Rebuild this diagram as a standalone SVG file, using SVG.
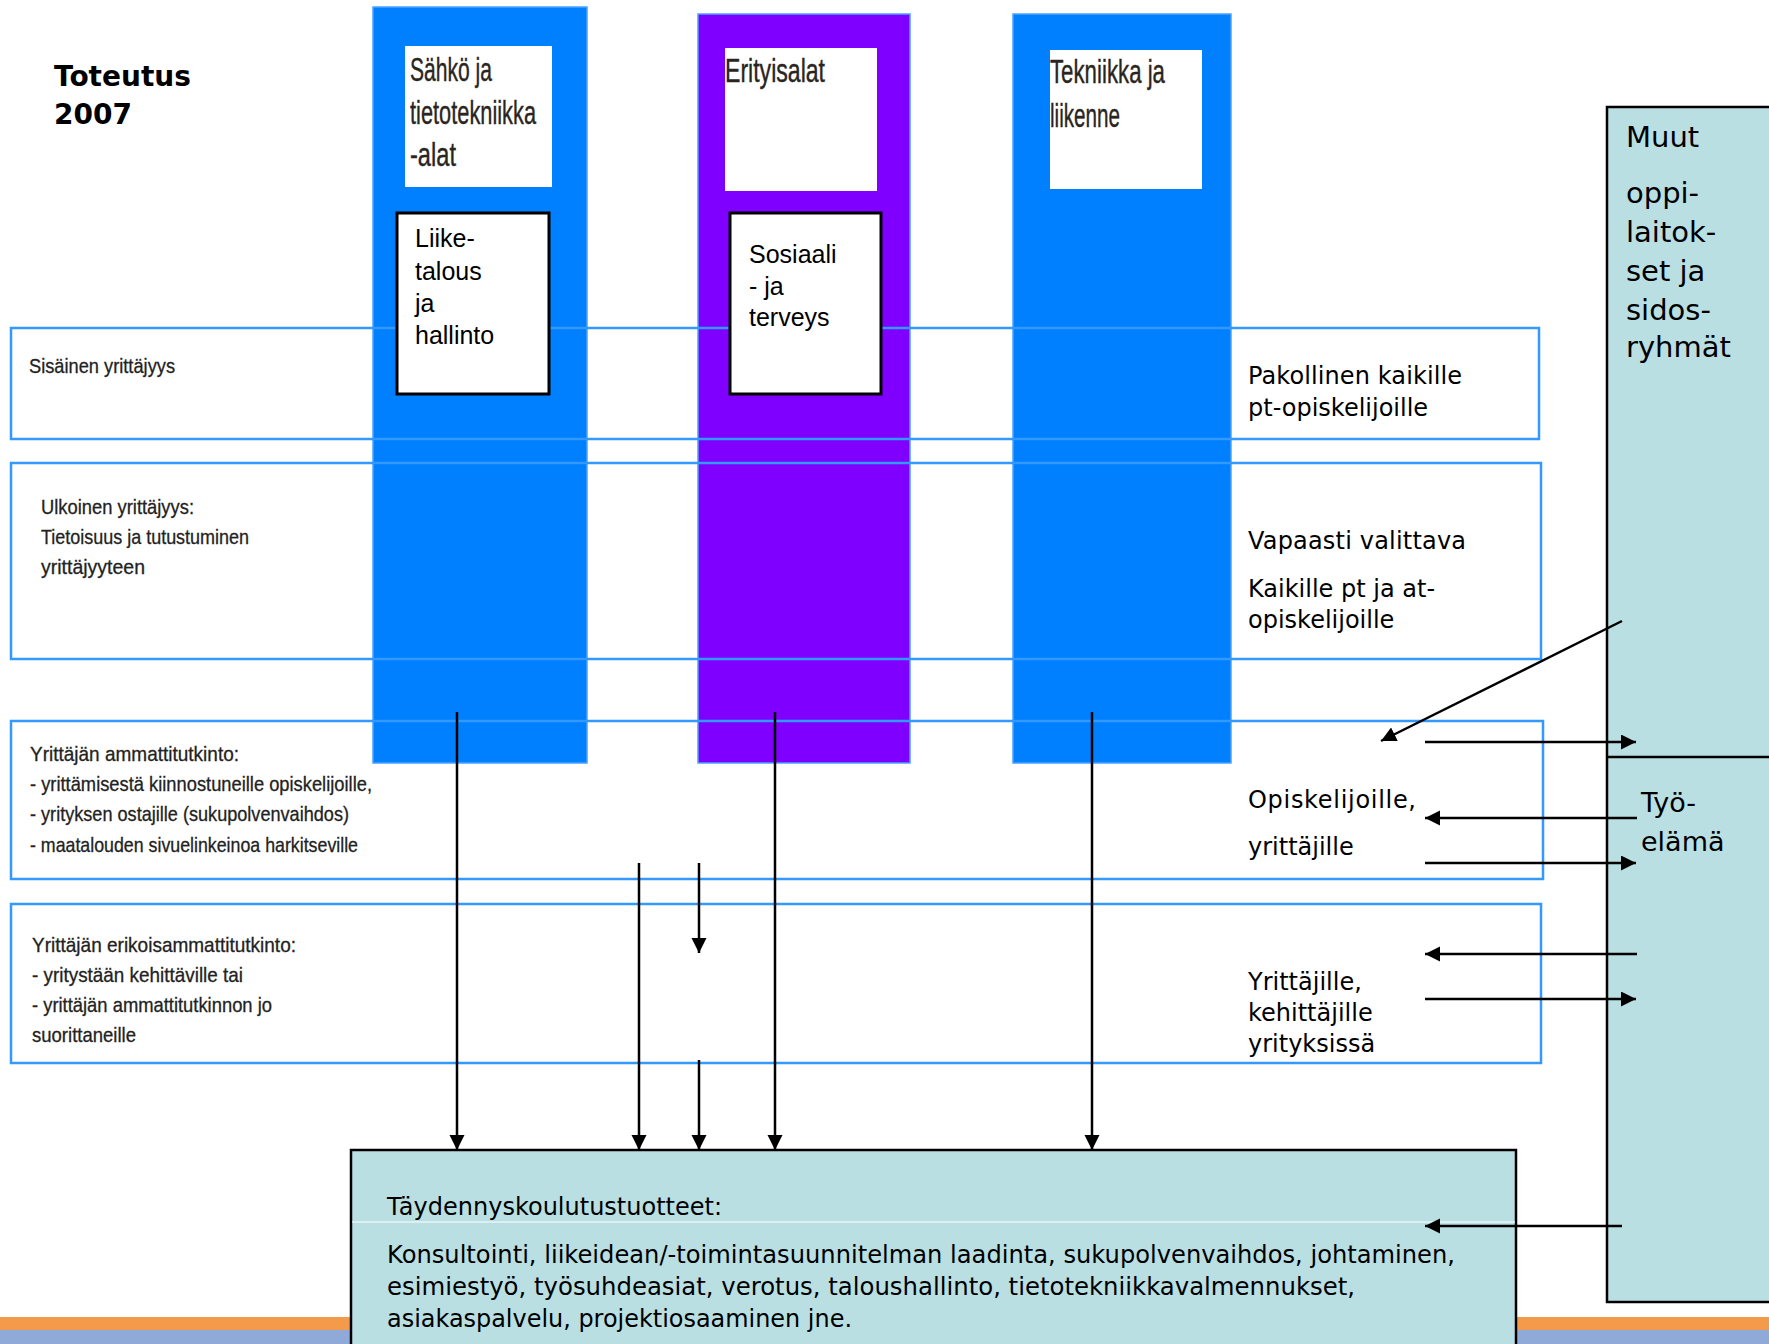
<svg xmlns="http://www.w3.org/2000/svg" width="1769" height="1344" viewBox="0 0 1769 1344">
<defs>
<marker id="ah" markerUnits="userSpaceOnUse" markerWidth="16" markerHeight="16" refX="15" refY="7.5" orient="auto">
<path d="M0,0 L15,7.5 L0,15 z" fill="#000"/>
</marker>
<style>
.col{fill:#0080FF;stroke:#4aa3ff;stroke-width:1.5}
.pur{fill:#8000FF;stroke:#4aa3ff;stroke-width:1.5}
.hdr{fill:#fff}
.blk{fill:#fff;stroke:#000;stroke-width:3}
.band{fill:none;stroke:#3399FF;stroke-width:2.5}
.teal{fill:#B9DFE3;stroke:#000;stroke-width:2.5}
.cond{font-family:"Liberation Sans",Arial,sans-serif;fill:#2a2520;stroke:#2a2520;stroke-width:0.4}
.narrow{font-family:"Liberation Sans",Arial,sans-serif;fill:#222;font-size:21px;stroke:#222;stroke-width:0.3}
.ar{font-family:"Liberation Sans",Arial,sans-serif;font-size:25px;fill:#000}
.vd{font-family:"DejaVu Sans",Verdana,sans-serif;font-size:24px;fill:#000}
.big{font-family:"DejaVu Sans",Verdana,sans-serif;fill:#000}
.conn line{stroke:#000;stroke-width:2.5;fill:none;marker-end:url(#ah)}
</style>
</defs>
<rect width="1769" height="1344" fill="#fff"/>
<g id="stripe">
<rect x="0" y="1317" width="1769" height="13" fill="#F39B4B"/>
<rect x="0" y="1330" width="1769" height="14" fill="#8FAAD9"/>
</g>
<g id="title">
<text x="54" y="86" class="big" font-weight="bold" font-size="28">Toteutus</text>
<text x="54" y="124" class="big" font-weight="bold" font-size="28">2007</text>
</g>
<g id="col-sahko"><rect class="col" x="373" y="7" width="214" height="756"/></g>
<g id="col-erityis"><rect class="pur" x="698" y="14" width="212" height="749"/></g>
<g id="col-tekniikka"><rect class="col" x="1013" y="14" width="218" height="749"/></g>
<g id="band-sisainen">
<rect class="band" x="11" y="328" width="1528" height="111"/>
<text class="narrow" x="29" y="373" textLength="146" lengthAdjust="spacingAndGlyphs">Sisäinen yrittäjyys</text>
</g>
<g id="band-ulkoinen">
<rect class="band" x="11" y="463" width="1530" height="196"/>
<text class="narrow" x="41" y="514" textLength="153" lengthAdjust="spacingAndGlyphs">Ulkoinen yrittäjyys:</text>
<text class="narrow" x="41" y="544" textLength="208" lengthAdjust="spacingAndGlyphs">Tietoisuus ja tutustuminen</text>
<text class="narrow" x="41" y="574" textLength="104" lengthAdjust="spacingAndGlyphs">yrittäjyyteen</text>
</g>
<g id="band-ammatti">
<rect class="band" x="11" y="721" width="1532" height="158"/>
<text class="narrow" x="30" y="761" textLength="209" lengthAdjust="spacingAndGlyphs">Yrittäjän ammattitutkinto:</text>
<text class="narrow" x="30" y="791" textLength="342" lengthAdjust="spacingAndGlyphs">- yrittämisestä kiinnostuneille opiskelijoille,</text>
<text class="narrow" x="30" y="821" textLength="319" lengthAdjust="spacingAndGlyphs">- yrityksen ostajille (sukupolvenvaihdos)</text>
<text class="narrow" x="30" y="852" textLength="328" lengthAdjust="spacingAndGlyphs">- maatalouden sivuelinkeinoa harkitseville</text>
</g>
<g id="band-erikois">
<rect class="band" x="11" y="904" width="1530" height="159"/>
<text class="narrow" x="32" y="952" textLength="264" lengthAdjust="spacingAndGlyphs">Yrittäjän erikoisammattitutkinto:</text>
<text class="narrow" x="32" y="982" textLength="211" lengthAdjust="spacingAndGlyphs">- yritystään kehittäville tai</text>
<text class="narrow" x="32" y="1012" textLength="240" lengthAdjust="spacingAndGlyphs">- yrittäjän ammattitutkinnon jo</text>
<text class="narrow" x="32" y="1042" textLength="104" lengthAdjust="spacingAndGlyphs">suorittaneille</text>
</g>
<g id="hdr-sahko">
<rect class="hdr" x="405" y="46" width="147" height="141"/>
<text class="cond" font-size="34" x="410" y="81" textLength="82" lengthAdjust="spacingAndGlyphs">Sähkö ja</text>
<text class="cond" font-size="34" x="410" y="124" textLength="126" lengthAdjust="spacingAndGlyphs">tietotekniikka</text>
<text class="cond" font-size="34" x="410" y="166" textLength="46" lengthAdjust="spacingAndGlyphs">-alat</text>
</g>
<g id="hdr-erityis">
<rect class="hdr" x="725" y="48" width="152" height="143"/>
<text class="cond" font-size="34" x="725" y="82" textLength="100" lengthAdjust="spacingAndGlyphs">Erityisalat</text>
</g>
<g id="hdr-tekniikka">
<rect class="hdr" x="1050" y="50" width="152" height="139"/>
<text class="cond" font-size="34" x="1050" y="83" textLength="115" lengthAdjust="spacingAndGlyphs">Tekniikka ja</text>
<text class="cond" font-size="34" x="1050" y="127" textLength="70" lengthAdjust="spacingAndGlyphs">liikenne</text>
</g>
<g id="box-liiketalous">
<rect class="blk" x="397" y="213" width="152" height="181"/>
<text class="ar" x="415" y="247">Liike-</text>
<text class="ar" x="415" y="280">talous</text>
<text class="ar" x="415" y="312">ja</text>
<text class="ar" x="415" y="344">hallinto</text>
</g>
<g id="box-sosiaali">
<rect class="blk" x="730" y="213" width="151" height="181"/>
<text class="ar" x="749" y="263">Sosiaali</text>
<text class="ar" x="749" y="295">- ja</text>
<text class="ar" x="749" y="326">terveys</text>
</g>
<g id="labels-right">
<text class="vd" x="1248" y="384" textLength="214" lengthAdjust="spacing">Pakollinen kaikille</text>
<text class="vd" x="1248" y="416">pt-opiskelijoille</text>
<text class="vd" x="1248" y="549" textLength="218" lengthAdjust="spacing">Vapaasti valittava</text>
<text class="vd" x="1248" y="597">Kaikille pt ja at-</text>
<text class="vd" x="1248" y="628">opiskelijoille</text>
<text class="vd" x="1248" y="808" textLength="168" lengthAdjust="spacing">Opiskelijoille,</text>
<text class="vd" x="1248" y="855">yrittäjille</text>
<text class="vd" x="1248" y="990">Yrittäjille,</text>
<text class="vd" x="1248" y="1021">kehittäjille</text>
<text class="vd" x="1248" y="1052">yrityksissä</text>
</g>
<g id="box-muut">
<rect class="teal" x="1607" y="107" width="200" height="1195"/>
<line x1="1607" y1="757" x2="1769" y2="757" stroke="#000" stroke-width="2.5"/>
<text class="big" font-size="29" x="1626" y="147">Muut</text>
<text class="big" font-size="29" x="1626" y="203">oppi-</text>
<text class="big" font-size="29" x="1626" y="242">laitok-</text>
<text class="big" font-size="29" x="1626" y="281">set ja</text>
<text class="big" font-size="29" x="1626" y="320">sidos-</text>
<text class="big" font-size="29" x="1626" y="357">ryhmät</text>
<text class="big" font-size="27" x="1641" y="812">Työ-</text>
<text class="big" font-size="27" x="1641" y="851">elämä</text>
</g>
<g id="box-taydennys">
<rect class="teal" x="351" y="1150" width="1165" height="210" stroke-width="3"/>
<line x1="352" y1="1222" x2="1515" y2="1222" stroke="#fff" stroke-width="1.2"/>
<text class="vd" x="387" y="1215">Täydennyskoulutustuotteet:</text>
<text class="vd" x="387" y="1263" textLength="1068" lengthAdjust="spacingAndGlyphs">Konsultointi, liikeidean/-toimintasuunnitelman laadinta, sukupolvenvaihdos, johtaminen,</text>
<text class="vd" x="387" y="1295" textLength="968" lengthAdjust="spacingAndGlyphs">esimiestyö, työsuhdeasiat, verotus, taloushallinto, tietotekniikkavalmennukset,</text>
<text class="vd" x="387" y="1327" textLength="465" lengthAdjust="spacingAndGlyphs">asiakaspalvelu, projektiosaaminen jne.</text>
</g>
<g id="connectors" class="conn">
<line x1="457" y1="712" x2="457" y2="1150"/>
<line x1="639" y1="863" x2="639" y2="1150"/>
<line x1="699" y1="863" x2="699" y2="953"/>
<line x1="699" y1="1060" x2="699" y2="1150"/>
<line x1="775" y1="712" x2="775" y2="1150"/>
<line x1="1092" y1="712" x2="1092" y2="1150"/>
<line x1="1622" y1="621" x2="1381" y2="741"/>
<line x1="1425" y1="742" x2="1636" y2="742"/>
<line x1="1637" y1="818" x2="1425" y2="818"/>
<line x1="1425" y1="863" x2="1636" y2="863"/>
<line x1="1637" y1="954" x2="1425" y2="954"/>
<line x1="1425" y1="999" x2="1636" y2="999"/>
<line x1="1622" y1="1226" x2="1425" y2="1226"/>
</g>
</svg>
